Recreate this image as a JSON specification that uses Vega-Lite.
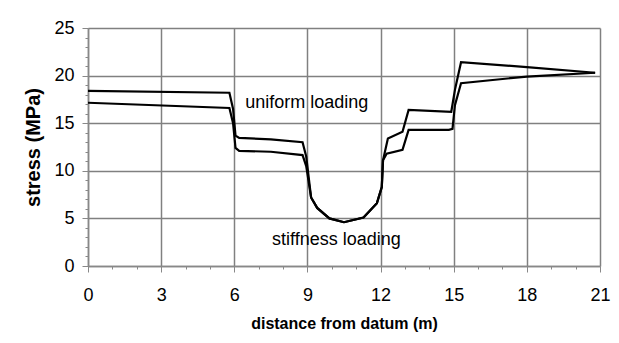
{
  "$schema": "https://vega.github.io/schema/vega-lite/v6.json",
  "autosize": "none",
  "width": 512,
  "height": 238,
  "padding": {"left": 88, "top": 28, "right": 19, "bottom": 77},
  "background": "white",
  "config": {
    "view": {"stroke": null},
    "font": "Liberation Sans"
  },
  "datasets": {
    "lines": [
      {"series": "upper", "x": 0, "y": 18.4},
      {"series": "upper", "x": 5.8, "y": 18.2},
      {"series": "upper", "x": 5.95, "y": 16.5},
      {"series": "upper", "x": 6.05, "y": 13.7},
      {"series": "upper", "x": 6.2, "y": 13.45},
      {"series": "upper", "x": 7.5, "y": 13.3},
      {"series": "upper", "x": 8.8, "y": 13.0},
      {"series": "upper", "x": 8.95, "y": 11.5},
      {"series": "upper", "x": 9.15, "y": 7.2},
      {"series": "upper", "x": 9.4, "y": 6.1},
      {"series": "upper", "x": 9.9, "y": 5.0},
      {"series": "upper", "x": 10.5, "y": 4.6},
      {"series": "upper", "x": 11.3, "y": 5.1},
      {"series": "upper", "x": 11.85, "y": 6.6},
      {"series": "upper", "x": 12.05, "y": 8.3},
      {"series": "upper", "x": 12.1, "y": 11.1},
      {"series": "upper", "x": 12.3, "y": 13.4},
      {"series": "upper", "x": 12.9, "y": 14.1},
      {"series": "upper", "x": 13.15, "y": 16.4},
      {"series": "upper", "x": 14.9, "y": 16.2},
      {"series": "upper", "x": 15.05, "y": 18.5},
      {"series": "upper", "x": 15.3, "y": 21.4},
      {"series": "upper", "x": 18, "y": 20.9},
      {"series": "upper", "x": 20.8, "y": 20.3},
      {"series": "lower", "x": 0, "y": 17.15},
      {"series": "lower", "x": 5.8, "y": 16.6},
      {"series": "lower", "x": 5.95, "y": 15.0},
      {"series": "lower", "x": 6.05, "y": 12.4},
      {"series": "lower", "x": 6.2, "y": 12.1},
      {"series": "lower", "x": 7.5, "y": 12.0},
      {"series": "lower", "x": 8.8, "y": 11.65},
      {"series": "lower", "x": 8.95, "y": 10.5},
      {"series": "lower", "x": 9.15, "y": 7.2},
      {"series": "lower", "x": 9.4, "y": 6.1},
      {"series": "lower", "x": 9.9, "y": 5.0},
      {"series": "lower", "x": 10.5, "y": 4.6},
      {"series": "lower", "x": 11.3, "y": 5.1},
      {"series": "lower", "x": 11.85, "y": 6.6},
      {"series": "lower", "x": 12.05, "y": 8.3},
      {"series": "lower", "x": 12.1, "y": 11.1},
      {"series": "lower", "x": 12.25, "y": 11.8},
      {"series": "lower", "x": 12.9, "y": 12.2},
      {"series": "lower", "x": 13.15, "y": 14.3},
      {"series": "lower", "x": 14.8, "y": 14.3},
      {"series": "lower", "x": 14.95, "y": 14.4},
      {"series": "lower", "x": 15.05, "y": 16.9},
      {"series": "lower", "x": 15.3, "y": 19.2},
      {"series": "lower", "x": 18, "y": 19.9},
      {"series": "lower", "x": 20.8, "y": 20.3}
    ],
    "labels": [
      {"x": 6.45, "y": 17.1, "text": "uniform loading"},
      {"x": 7.55, "y": 2.7, "text": "stiffness loading"}
    ]
  },
  "encoding": {
    "x": {
      "field": "x", "type": "quantitative",
      "scale": {"domain": [0, 21], "nice": false, "zero": false},
      "axis": {
        "title": "distance from datum (m)",
        "titleFont": "Liberation Sans",
        "titleFontSize": 16,
        "titleFontWeight": "bold",
        "titleColor": "black",
        "titlePadding": 11,
        "values": [0,0.5,1,1.5,2,2.5,3,3.5,4,4.5,5,5.5,6,6.5,7,7.5,8,8.5,9,9.5,10,10.5,11,11.5,12,12.5,13,13.5,14,14.5,15,15.5,16,16.5,17,17.5,18,18.5,19,19.5,20,20.5,21],
        "format": "d",
        "labelExpr": "datum.value % 3 === 0 ? datum.label : ''",
        "labelOverlap": false,
        "labelFlush": false,
        "labelBound": false,
        "labelFontSize": 18,
        "labelColor": "black",
        "labelPadding": 14,
        "domainColor": "#888888",
        "domainWidth": 1.5,
        "tickColor": "#888888",
        "tickSize": {"condition": {"test": "datum.value % 3 === 0", "value": 6}, "value": 3},
        "tickWidth": 1,
        "gridColor": "#808080",
        "gridWidth": 1.5,
        "gridOpacity": {"condition": {"test": "datum.value % 3 === 0", "value": 1}, "value": 0}
      }
    },
    "y": {
      "field": "y", "type": "quantitative",
      "scale": {"domain": [0, 25], "nice": false},
      "axis": {
        "title": "stress (MPa)",
        "titleFont": "Liberation Sans",
        "titleFontSize": 20,
        "titleFontWeight": "bold",
        "titleColor": "black",
        "titlePadding": 10,
        "values": [0,0.5,1,1.5,2,2.5,3,3.5,4,4.5,5,5.5,6,6.5,7,7.5,8,8.5,9,9.5,10,10.5,11,11.5,12,12.5,13,13.5,14,14.5,15,15.5,16,16.5,17,17.5,18,18.5,19,19.5,20,20.5,21,21.5,22,22.5,23,23.5,24,24.5,25],
        "format": "d",
        "labelExpr": "datum.value % 5 === 0 ? datum.label : ''",
        "labelOverlap": false,
        "labelFlush": false,
        "labelBound": false,
        "labelFontSize": 18,
        "labelColor": "black",
        "labelPadding": 8,
        "domainColor": "#888888",
        "domainWidth": 1.5,
        "tickColor": "#888888",
        "tickSize": {"condition": {"test": "datum.value % 5 === 0", "value": 6}, "value": 3},
        "tickWidth": 1,
        "gridColor": "#808080",
        "gridWidth": 1.5,
        "gridOpacity": {"condition": {"test": "datum.value % 5 === 0", "value": 1}, "value": 0}
      }
    }
  },
  "layer": [
    {
      "data": {"name": "lines"},
      "mark": {"type": "line", "color": "black", "strokeWidth": 2.2, "interpolate": "linear"},
      "encoding": {
        "detail": {"field": "series", "type": "nominal"}
      }
    },
    {
      "data": {"name": "labels"},
      "mark": {"type": "text", "align": "left", "baseline": "middle", "fontSize": 18, "color": "black", "font": "Liberation Sans"},
      "encoding": {
        "text": {"field": "text"}
      }
    }
  ]
}
